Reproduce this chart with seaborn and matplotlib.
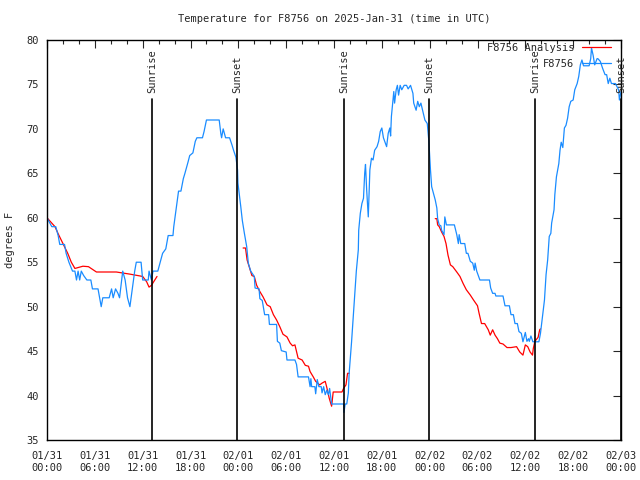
#!/usr/bin/env python3

"""
Temperature chart for F8756, observed vs analysis, with sunrise / sunset marks
"""

import pandas as pd
import seaborn as sns
import matplotlib.pyplot as plt
import matplotlib.dates as mdates

START = pd.Timestamp("2025-01-31 00:00")

# observed temperature (hours since 01/31 00:00 UTC, degrees F)
obs_hours = [
    0.0, 0.6, 1.1, 1.4, 1.6, 2.2, 2.4, 2.75, 3.2, 3.5, 3.7, 3.9, 4.1, 4.3, 4.6,
    5.0, 5.5, 5.7, 6.4, 6.6, 6.8, 7.0, 7.8, 8.1, 8.3, 8.6, 8.9, 9.1, 9.5, 9.8,
    10.1, 10.4, 10.7, 11.0, 11.2, 11.8, 12.0, 12.7, 12.8, 13.1, 13.3, 13.9, 14.2,
    14.5, 14.9, 15.2, 15.8, 15.9, 16.2, 16.5, 16.8, 17.1, 17.3, 17.7, 17.9, 18.3,
    18.6, 18.8, 19.5, 19.7, 20.0, 21.6, 21.8, 21.9, 22.1, 22.4, 22.9, 23.2, 23.4,
    23.7, 23.9, 23.95, 24.1, 24.3, 24.5, 24.75, 25.05, 25.25, 25.55, 26.0, 26.1,
    26.6, 26.7, 27.0, 27.3, 27.8, 27.9, 28.8, 28.9, 29.2, 29.4, 30.0, 30.1, 31.1,
    31.3, 31.5, 32.8, 33.0, 33.1, 33.2, 33.6, 33.7, 33.9, 34.1, 34.4, 34.5, 34.7,
    34.9, 35.1, 35.3, 35.45, 35.7, 37.2, 37.25, 37.4, 37.6, 37.8, 37.9, 38.2,
    38.5, 38.8, 39.05, 39.1, 39.3, 39.5, 39.7, 39.85, 39.95, 40.1, 40.3, 40.5,
    40.7, 40.9, 41.1, 41.4, 41.6, 41.8, 42.0, 42.2, 42.6, 42.8, 43.0, 43.1, 43.2,
    43.4, 43.5, 43.6, 43.8, 43.95, 44.1, 44.3, 44.5, 44.8, 45.1, 45.3, 45.6, 45.9,
    46.0, 46.3, 46.5, 46.7, 46.9, 47.2, 47.4, 47.7, 47.9, 48.0, 48.1, 48.25, 48.7,
    48.9, 49.0, 49.2, 49.4, 49.5, 49.7, 49.8, 49.9, 50.1, 51.1, 51.4, 51.6, 51.7,
    51.9, 52.4, 52.6, 52.8, 53.1, 53.4, 53.6, 53.7, 53.9, 54.3, 55.5, 55.65, 55.9,
    56.2, 56.3, 57.2, 57.45, 58.0, 58.2, 58.5, 58.7, 59.0, 59.2, 59.5, 59.7, 60.0,
    60.2, 60.4, 60.5, 60.7, 60.95, 61.7, 61.9, 62.2, 62.4, 62.6, 62.8, 62.9, 63.0,
    63.2, 63.3, 63.6, 63.7, 63.9, 64.2, 64.35, 64.5, 64.7, 64.9, 65.1, 65.3, 65.5,
    65.7, 66.0, 66.2, 66.5, 66.7, 66.9, 67.1, 67.3, 68.0, 68.2, 68.3, 68.5, 68.7,
    69.0, 69.1, 69.4, 69.7, 70.0, 70.2, 70.4, 70.6, 70.8, 71.3, 71.7, 71.8, 72.0,
]
obs_temp = [
    60, 59, 59, 58, 57, 57, 56, 55, 54, 54, 53, 54, 53, 54, 53.5,
    53, 53, 52, 52, 51, 50, 51, 51, 52, 51, 52, 51.5, 51, 54, 53,
    51, 50, 52, 54, 55, 55, 53, 53, 54, 53, 54, 54, 55,
    56, 56.5, 58, 58, 59, 61, 63, 63, 64.4, 65, 66.3, 67, 67.3,
    68.6, 69, 69, 69.7, 71, 71, 69.5, 69, 70, 69, 69, 68.2, 67.6,
    66.8, 65.4, 63.9, 62.8, 61.3, 59.7, 58.3, 56.75, 54.9, 54.0, 53.4, 52.1,
    52.0, 50.9, 50.7, 49.1, 49.1, 48.0, 48.0, 46.1, 45.9, 45.05, 44.9, 44.0, 44.0,
    43.5, 42.1, 42.1, 41.0, 41.9, 41.0, 41.0, 40.2, 41.8, 41.0, 41.0, 40.3, 41.0,
    40.1, 40.6, 40.1, 40.8, 39.05, 39.05, 38.1, 39.05, 39.05, 40.3, 42.5, 46,
    50, 54, 56.4, 58.6, 60.5, 61.6, 62.2, 65.0, 66.0, 63.1, 60.1, 65.4,
    66.7, 66.5, 67.6, 68.0, 68.6, 69.7, 70.1, 69.0, 68.0, 69.5, 70.1, 69.2, 71.4,
    73.25, 74.2, 72.9, 74.4, 74.9, 73.8, 74.9, 74.4, 74.9, 74.9, 74.5, 74.9, 74.0,
    72.9, 72.1, 73.1, 72.5, 72.9, 71.75, 71.0, 70.6, 68.6, 66.9, 65.4, 63.5, 62.0,
    61.1, 59.9, 59.2, 59.1, 58.6, 58.25, 58.1, 60.1, 59.2, 59.2, 58.1, 57.1, 58.1,
    57.1, 57.1, 56.0, 56.0, 55.1, 54.9, 54.1, 54.9, 54.0, 53.0, 53.0, 52.1, 51.5,
    51.5, 51.2, 51.2, 50.1, 50.1, 49.1, 49.1, 48.1, 48.1, 47.2, 47.0, 46.05, 47.1,
    46.1, 46.4, 46.1, 46.7, 46.05, 46.05, 47.0, 49.25, 50.75, 53.6, 55.25, 56.6, 57.9,
    58.25, 59.4, 60.9, 62.6, 64.6, 66.1, 67.6, 68.5, 67.9, 70.1, 70.4, 71.2, 72.5,
    73.1, 73.25, 74.4, 75.1, 75.9, 77.2, 77.75, 77.1, 77.1, 77.9, 79.1, 78.3, 77.2,
    77.9, 77.9, 77.6, 76.8, 76.1, 76.1, 75.1, 75.7, 75.1, 75.1, 74.4, 73.25, 74.2,
]

# analysis temperature, only available over the three nights
ana_hours_1 = [0.0, 1.0, 1.4, 2.0, 2.6, 3.05, 3.5, 4.5, 5.2, 6.2, 8.7, 10.4,
               12.0, 12.5, 12.8, 13.1, 13.8]
ana_temp_1 = [60, 59, 58.2, 57.1, 56, 55, 54.3, 54.55, 54.5, 53.9, 53.9, 53.66,
              53.4, 52.8, 52.2, 52.4, 53.4]
ana_hours_2 = [24.6, 24.9, 25.1, 25.5, 25.7, 26.0, 26.3, 26.7, 27.1, 27.6, 28.0,
               28.4, 28.8, 29.2, 29.6, 30.1, 30.5, 30.8, 31.1, 31.5, 32.0, 32.4,
               32.8, 33.0, 33.4, 33.7, 34.2, 34.5, 34.9, 35.1, 35.4, 35.7, 35.9,
               37.0, 37.2, 37.5, 37.7, 37.9]
ana_temp_2 = [56.6, 56.6, 55.25, 54.1, 53.5, 53.4, 52.4, 51.7, 51.1, 50.2, 50.0,
              49.1, 48.5, 47.75, 46.9, 46.6, 45.9, 45.6, 45.7, 44.2, 44.0, 43.4,
              43.3, 42.7, 42.1, 41.6, 41.2, 41.4, 41.6, 40.9, 39.7, 38.8, 40.4,
              40.4, 40.8, 41.2, 42.5, 42.5]
ana_hours_3 = [48.7, 48.9, 49.0, 49.2, 49.5, 49.8, 50.05, 50.3, 50.6, 50.9, 51.4,
               51.8, 52.2, 52.6, 53.1, 53.5, 54.0, 54.2, 54.5, 54.9, 55.35, 55.6,
               55.9, 56.2, 56.5, 56.8, 57.2, 57.7, 58.2, 58.9, 59.3, 59.7, 60.0,
               60.3, 60.6, 60.9, 61.0, 61.2, 61.6, 61.8, 61.9]
ana_temp_3 = [59.9, 59.9, 59.2, 59.0, 58.4, 57.9, 57.1, 55.8, 54.7, 54.5, 53.9,
              53.4, 52.6, 51.9, 51.3, 50.75, 50.1, 49.25, 48.1, 48.1, 47.4, 46.8,
              47.4, 46.8, 46.4, 45.9, 45.8, 45.4, 45.4, 45.5, 44.9, 44.55, 45.7,
              45.5, 44.9, 44.55, 45.3, 46.1, 46.55, 47.4, 47.5]

# sun events (hours since start)
sun_hours = [13.2, 23.87, 37.25, 47.95, 61.2, 71.98]
sun_labels = ["Sunrise", "Sunset", "Sunrise", "Sunset", "Sunrise", "Sunset"]


def to_time(hours):
    return START + pd.to_timedelta(hours, unit="h")


sns.set_style("white")
plt.rcParams["font.family"] = ["DejaVu Sans Mono", "DejaVu Sans"]
plt.rcParams["font.size"] = 7.5

fig = plt.figure(figsize=(6.4, 4.8), dpi=100)
ax = fig.add_axes([47 / 640, 40 / 480, 574 / 640, 400 / 480])

# analysis, one piece per night
ana = pd.concat([
    pd.DataFrame({"time": to_time(h), "temp": t, "night": i})
    for i, (h, t) in enumerate([(ana_hours_1, ana_temp_1),
                                (ana_hours_2, ana_temp_2),
                                (ana_hours_3, ana_temp_3)])
])
sns.lineplot(data=ana, x="time", y="temp", units="night", estimator=None,
             color="red", lw=0.9, ax=ax)

obs = pd.DataFrame({"time": to_time(obs_hours), "temp": obs_temp})
sns.lineplot(data=obs, x="time", y="temp", color="#1a8cff", lw=0.9, ax=ax)

# sunrise / sunset markers
for h, lab in zip(sun_hours, sun_labels):
    t = to_time(h)
    ax.plot([t, t], [35, 73.4], color="black", lw=1.2)
    ax.text(t, 74.0, lab, rotation=90, ha="center", va="bottom", fontsize=7.5)

ax.set_xlim(to_time(0), to_time(72))
ax.set_ylim(35, 80)
ax.set_yticks(range(35, 81, 5))

ax.xaxis.set_major_locator(mdates.HourLocator(byhour=[0, 6, 12, 18]))
ax.xaxis.set_major_formatter(mdates.DateFormatter("%m/%d\n%H:%M"))
ax.xaxis.set_minor_locator(mdates.HourLocator(byhour=range(0, 24, 2)))

ax.tick_params(axis="both", which="both", direction="in", top=True, right=True,
               labelsize=7.5, pad=6)
ax.tick_params(which="major", length=6, width=0.8)
ax.tick_params(which="minor", length=3, width=0.8)
ax.tick_params(axis="x", pad=8)

for s in ax.spines.values():
    s.set_color("black")
    s.set_linewidth(1.0)

ax.set_xlabel("")
ax.set_ylabel("degrees F", fontsize=7.5, labelpad=8)
ax.set_title("Temperature for F8756 on 2025-Jan-31 (time in UTC)", fontsize=7.5, pad=13)

# legend: text first, line sample on the right
handles = [plt.Line2D([], [], color="red", lw=0.9),
           plt.Line2D([], [], color="#1a8cff", lw=0.9)]
ax.legend(handles, ["F8756 Analysis", "F8756"], loc="upper right",
          bbox_to_anchor=((611 - 47) / 574, (440 - 43) / 400),
          markerfirst=False, frameon=False, fontsize=7.5, handlelength=2.8,
          borderaxespad=0.0, borderpad=0.0, labelspacing=0.55, handletextpad=0.7)

plt.savefig("out.png", dpi=100)
